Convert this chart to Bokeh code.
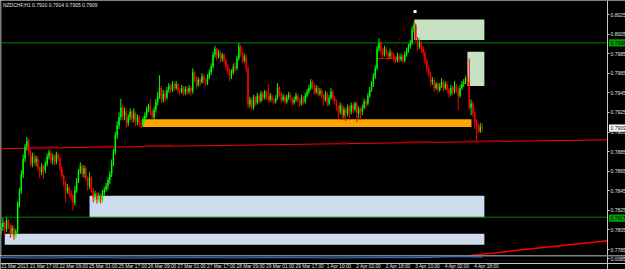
from bokeh.plotting import figure
from bokeh.models import (ColumnDataSource, Range1d, FixedTicker, Label, Span,
                          NumeralTickFormatter, LinearAxis)
from bokeh.core.properties import value
from bokeh.layouts import column
from bokeh.embed import file_html
from bokeh.resources import INLINE

# ---------------- data: NZDCHF H1 candles (bar index 0 = 21 Mar 2013) ----------------
opens = [
    0.7805, 0.7808, 0.7812, 0.7806, 0.7815, 0.7810, 0.7802, 0.7807, 0.7800, 0.7804,
    0.7832, 0.7845, 0.7862, 0.7878, 0.7890, 0.7896, 0.7884, 0.7872, 0.7880, 0.7874,
    0.7878, 0.7868, 0.7864, 0.7870, 0.7866, 0.7872, 0.7880, 0.7884, 0.7876, 0.7880,
    0.7874, 0.7882, 0.7878, 0.7868, 0.7860, 0.7852, 0.7845, 0.7848, 0.7842, 0.7840,
    0.7833, 0.7846, 0.7856, 0.7865, 0.7870, 0.7862, 0.7868, 0.7858, 0.7850, 0.7858,
    0.7846, 0.7838, 0.7842, 0.7836, 0.7840, 0.7835, 0.7843, 0.7846, 0.7850, 0.7856,
    0.7862, 0.7874, 0.7885, 0.7902, 0.7912, 0.7920, 0.7930, 0.7921, 0.7926, 0.7914,
    0.7920, 0.7926, 0.7918, 0.7924, 0.7916, 0.7920, 0.7914, 0.7912, 0.7918, 0.7922,
    0.7928, 0.7932, 0.7926, 0.7920, 0.7928, 0.7936, 0.7942, 0.7950, 0.7938, 0.7944,
    0.7940, 0.7948, 0.7952, 0.7948, 0.7954, 0.7950, 0.7954, 0.7948, 0.7946, 0.7950,
    0.7945, 0.7949, 0.7946, 0.7950, 0.7947, 0.7966, 0.7960, 0.7953, 0.7958, 0.7956,
    0.7962, 0.7958, 0.7955, 0.7961, 0.7966, 0.7972, 0.7984, 0.7990, 0.7983, 0.7986,
    0.7980, 0.7984, 0.7978, 0.7972, 0.7968, 0.7962, 0.7966, 0.7972, 0.7970, 0.7980,
    0.7992, 0.7985, 0.7978, 0.7982, 0.7970, 0.7933, 0.7938, 0.7930, 0.7940, 0.7935,
    0.7942, 0.7937, 0.7944, 0.7940, 0.7946, 0.7941, 0.7938, 0.7942, 0.7938, 0.7936,
    0.7940, 0.7950, 0.7944, 0.7938, 0.7941, 0.7936, 0.7940, 0.7943, 0.7939, 0.7935,
    0.7938, 0.7942, 0.7938, 0.7934, 0.7940, 0.7936, 0.7942, 0.7946, 0.7950, 0.7956,
    0.7952, 0.7946, 0.7950, 0.7944, 0.7947, 0.7942, 0.7938, 0.7944, 0.7934, 0.7940,
    0.7946, 0.7940, 0.7936, 0.7930, 0.7926, 0.7932, 0.7922, 0.7928, 0.7924, 0.7930,
    0.7926, 0.7932, 0.7928, 0.7934, 0.7924, 0.7928, 0.7926, 0.7930, 0.7936, 0.7934,
    0.7942, 0.7948, 0.7954, 0.7962, 0.7970, 0.7990, 0.7996, 0.7988, 0.7984, 0.7990,
    0.7986, 0.7982, 0.7986, 0.7984, 0.7980, 0.7978, 0.7983, 0.7979, 0.7982, 0.7978,
    0.7984, 0.7988, 0.7992, 0.7996, 0.8010, 0.8014, 0.8000, 0.7992, 0.7996, 0.7990,
    0.7986, 0.7978, 0.7970, 0.7964, 0.7956, 0.7958, 0.7950, 0.7954, 0.7948, 0.7952,
    0.7956, 0.7950, 0.7954, 0.7948, 0.7944, 0.7950, 0.7946, 0.7952, 0.7948, 0.7942,
    0.7950, 0.7954, 0.7956, 0.7960, 0.7956, 0.7930, 0.7934, 0.7924, 0.7915, 0.7910,
    0.7906, 0.7910,
]
highs = [
    0.7812, 0.7817, 0.7814, 0.7818, 0.7816, 0.7812, 0.7810, 0.7809, 0.7806, 0.7834,
    0.7848, 0.7866, 0.7882, 0.7893, 0.7900, 0.7898, 0.7887, 0.7884, 0.7883, 0.7881,
    0.7880, 0.7870, 0.7873, 0.7872, 0.7875, 0.7883, 0.7887, 0.7886, 0.7883, 0.7882,
    0.7885, 0.7884, 0.7880, 0.7870, 0.7862, 0.7855, 0.7852, 0.7850, 0.7846, 0.7842,
    0.7850, 0.7858, 0.7867, 0.7874, 0.7872, 0.7871, 0.7870, 0.7860, 0.7864, 0.7860,
    0.7848, 0.7845, 0.7844, 0.7843, 0.7842, 0.7846, 0.7849, 0.7853, 0.7859, 0.7865,
    0.7877, 0.7888, 0.7905, 0.7916, 0.7925, 0.7939, 0.7933, 0.7930, 0.7928, 0.7923,
    0.7929, 0.7928, 0.7929, 0.7926, 0.7923, 0.7922, 0.7917, 0.7921, 0.7925, 0.7931,
    0.7934, 0.7939, 0.7928, 0.7931, 0.7939, 0.7946, 0.7963, 0.7952, 0.7948, 0.7947,
    0.7951, 0.7955, 0.7954, 0.7957, 0.7956, 0.7957, 0.7955, 0.7950, 0.7953, 0.7952,
    0.7952, 0.7951, 0.7953, 0.7952, 0.7970, 0.7968, 0.7962, 0.7961, 0.7960, 0.7965,
    0.7964, 0.7960, 0.7964, 0.7969, 0.7975, 0.7987, 0.7993, 0.7991, 0.7989, 0.7988,
    0.7986, 0.7985, 0.7980, 0.7974, 0.7970, 0.7969, 0.7975, 0.7976, 0.7983, 0.7996,
    0.7994, 0.7987, 0.7985, 0.7984, 0.7972, 0.7941, 0.7940, 0.7943, 0.7942, 0.7945,
    0.7944, 0.7947, 0.7946, 0.7948, 0.7947, 0.7954, 0.7945, 0.7944, 0.7940, 0.7943,
    0.7955, 0.7952, 0.7946, 0.7944, 0.7943, 0.7943, 0.7946, 0.7945, 0.7941, 0.7941,
    0.7945, 0.7944, 0.7940, 0.7943, 0.7942, 0.7945, 0.7949, 0.7953, 0.7959, 0.7958,
    0.7955, 0.7953, 0.7952, 0.7950, 0.7949, 0.7944, 0.7947, 0.7946, 0.7943, 0.7950,
    0.7948, 0.7942, 0.7938, 0.7932, 0.7935, 0.7934, 0.7931, 0.7930, 0.7933, 0.7932,
    0.7935, 0.7934, 0.7936, 0.7936, 0.7931, 0.7930, 0.7933, 0.7939, 0.7938, 0.7945,
    0.7951, 0.7957, 0.7965, 0.7973, 0.7993, 0.8001, 0.7998, 0.7991, 0.7993, 0.7992,
    0.7988, 0.7990, 0.7988, 0.7986, 0.7982, 0.7986, 0.7985, 0.7985, 0.7984, 0.7987,
    0.7991, 0.7995, 0.7999, 0.8013, 0.8017, 0.8016, 0.8002, 0.8001, 0.7998, 0.7993,
    0.7988, 0.7980, 0.7972, 0.7966, 0.7961, 0.7960, 0.7956, 0.7956, 0.7955, 0.7960,
    0.7958, 0.7957, 0.7956, 0.7950, 0.7953, 0.7952, 0.7957, 0.7954, 0.7951, 0.7953,
    0.7957, 0.7959, 0.7962, 0.7962, 0.7980, 0.7938, 0.7936, 0.7926, 0.7918, 0.7913,
    0.7914, 0.7914,
]
lows = [
    0.7800, 0.7804, 0.7799, 0.7803, 0.7806, 0.7797, 0.7798, 0.7795, 0.7797, 0.7801,
    0.7828, 0.7842, 0.7858, 0.7874, 0.7886, 0.7880, 0.7870, 0.7869, 0.7871, 0.7870,
    0.7865, 0.7858, 0.7861, 0.7857, 0.7863, 0.7870, 0.7877, 0.7873, 0.7872, 0.7871,
    0.7872, 0.7875, 0.7865, 0.7857, 0.7849, 0.7833, 0.7842, 0.7838, 0.7836, 0.7825,
    0.7830, 0.7843, 0.7853, 0.7862, 0.7859, 0.7858, 0.7855, 0.7845, 0.7847, 0.7843,
    0.7833, 0.7835, 0.7832, 0.7833, 0.7832, 0.7833, 0.7840, 0.7844, 0.7846, 0.7852,
    0.7859, 0.7870, 0.7882, 0.7898, 0.7908, 0.7917, 0.7917, 0.7917, 0.7909, 0.7911,
    0.7917, 0.7914, 0.7915, 0.7911, 0.7912, 0.7910, 0.7909, 0.7910, 0.7915, 0.7919,
    0.7925, 0.7922, 0.7918, 0.7917, 0.7925, 0.7932, 0.7939, 0.7935, 0.7935, 0.7936,
    0.7938, 0.7945, 0.7945, 0.7946, 0.7947, 0.7948, 0.7945, 0.7943, 0.7944, 0.7942,
    0.7943, 0.7943, 0.7944, 0.7942, 0.7944, 0.7956, 0.7949, 0.7951, 0.7952, 0.7954,
    0.7955, 0.7952, 0.7953, 0.7959, 0.7963, 0.7970, 0.7981, 0.7978, 0.7980, 0.7976,
    0.7977, 0.7975, 0.7968, 0.7964, 0.7957, 0.7959, 0.7964, 0.7966, 0.7968, 0.7978,
    0.7982, 0.7975, 0.7976, 0.7966, 0.7929, 0.7930, 0.7927, 0.7928, 0.7932, 0.7933,
    0.7934, 0.7935, 0.7937, 0.7938, 0.7938, 0.7935, 0.7936, 0.7935, 0.7933, 0.7934,
    0.7938, 0.7941, 0.7935, 0.7936, 0.7933, 0.7934, 0.7938, 0.7936, 0.7932, 0.7933,
    0.7936, 0.7935, 0.7930, 0.7932, 0.7933, 0.7934, 0.7940, 0.7944, 0.7948, 0.7949,
    0.7943, 0.7944, 0.7941, 0.7942, 0.7939, 0.7932, 0.7936, 0.7931, 0.7932, 0.7938,
    0.7937, 0.7933, 0.7927, 0.7918, 0.7923, 0.7917, 0.7919, 0.7916, 0.7921, 0.7919,
    0.7923, 0.7924, 0.7926, 0.7915, 0.7919, 0.7917, 0.7922, 0.7928, 0.7929, 0.7932,
    0.7940, 0.7946, 0.7951, 0.7959, 0.7968, 0.7987, 0.7984, 0.7980, 0.7982, 0.7983,
    0.7979, 0.7980, 0.7980, 0.7976, 0.7975, 0.7976, 0.7976, 0.7977, 0.7975, 0.7976,
    0.7982, 0.7986, 0.7990, 0.7994, 0.8007, 0.7997, 0.7988, 0.7990, 0.7986, 0.7983,
    0.7974, 0.7966, 0.7961, 0.7952, 0.7953, 0.7946, 0.7948, 0.7945, 0.7946, 0.7950,
    0.7947, 0.7948, 0.7945, 0.7940, 0.7942, 0.7943, 0.7944, 0.7945, 0.7927, 0.7940,
    0.7948, 0.7951, 0.7954, 0.7953, 0.7928, 0.7922, 0.7920, 0.7908, 0.7896, 0.7904,
    0.7904, 0.7905,
]
closes = [
    0.7808, 0.7812, 0.7806, 0.7815, 0.7810, 0.7802, 0.7807, 0.7800, 0.7804, 0.7832,
    0.7845, 0.7862, 0.7878, 0.7890, 0.7896, 0.7884, 0.7872, 0.7880, 0.7874, 0.7878,
    0.7868, 0.7864, 0.7870, 0.7866, 0.7872, 0.7880, 0.7884, 0.7876, 0.7880, 0.7874,
    0.7882, 0.7878, 0.7868, 0.7860, 0.7852, 0.7845, 0.7848, 0.7842, 0.7840, 0.7833,
    0.7846, 0.7856, 0.7865, 0.7870, 0.7862, 0.7868, 0.7858, 0.7850, 0.7858, 0.7846,
    0.7838, 0.7842, 0.7836, 0.7840, 0.7835, 0.7843, 0.7846, 0.7850, 0.7856, 0.7862,
    0.7874, 0.7885, 0.7902, 0.7912, 0.7920, 0.7930, 0.7921, 0.7926, 0.7914, 0.7920,
    0.7926, 0.7918, 0.7924, 0.7916, 0.7920, 0.7914, 0.7912, 0.7918, 0.7922, 0.7928,
    0.7932, 0.7926, 0.7920, 0.7928, 0.7936, 0.7942, 0.7950, 0.7938, 0.7944, 0.7940,
    0.7948, 0.7952, 0.7948, 0.7954, 0.7950, 0.7954, 0.7948, 0.7946, 0.7950, 0.7945,
    0.7949, 0.7946, 0.7950, 0.7947, 0.7966, 0.7960, 0.7953, 0.7958, 0.7956, 0.7962,
    0.7958, 0.7955, 0.7961, 0.7966, 0.7972, 0.7984, 0.7990, 0.7983, 0.7986, 0.7980,
    0.7984, 0.7978, 0.7972, 0.7968, 0.7962, 0.7966, 0.7972, 0.7970, 0.7980, 0.7992,
    0.7985, 0.7978, 0.7982, 0.7970, 0.7933, 0.7938, 0.7930, 0.7940, 0.7935, 0.7942,
    0.7937, 0.7944, 0.7940, 0.7946, 0.7941, 0.7938, 0.7942, 0.7938, 0.7936, 0.7940,
    0.7950, 0.7944, 0.7938, 0.7941, 0.7936, 0.7940, 0.7943, 0.7939, 0.7935, 0.7938,
    0.7942, 0.7938, 0.7934, 0.7940, 0.7936, 0.7942, 0.7946, 0.7950, 0.7956, 0.7952,
    0.7946, 0.7950, 0.7944, 0.7947, 0.7942, 0.7938, 0.7944, 0.7934, 0.7940, 0.7946,
    0.7940, 0.7936, 0.7930, 0.7926, 0.7932, 0.7922, 0.7928, 0.7924, 0.7930, 0.7926,
    0.7932, 0.7928, 0.7934, 0.7924, 0.7928, 0.7926, 0.7930, 0.7936, 0.7934, 0.7942,
    0.7948, 0.7954, 0.7962, 0.7970, 0.7990, 0.7996, 0.7988, 0.7984, 0.7990, 0.7986,
    0.7982, 0.7986, 0.7984, 0.7980, 0.7978, 0.7983, 0.7979, 0.7982, 0.7978, 0.7984,
    0.7988, 0.7992, 0.7996, 0.8010, 0.8014, 0.8000, 0.7992, 0.7996, 0.7990, 0.7986,
    0.7978, 0.7970, 0.7964, 0.7956, 0.7958, 0.7950, 0.7954, 0.7948, 0.7952, 0.7956,
    0.7950, 0.7954, 0.7948, 0.7944, 0.7950, 0.7946, 0.7952, 0.7948, 0.7942, 0.7950,
    0.7954, 0.7956, 0.7960, 0.7956, 0.7930, 0.7934, 0.7924, 0.7915, 0.7910, 0.7906,
    0.7910, 0.7909,
]

price_ticks = [0.7785, 0.7805, 0.7825, 0.7845, 0.7865, 0.7885, 0.7905,
               0.7925, 0.7945, 0.7965, 0.7985, 0.8005, 0.8025]
time_tick_bars = [0, 16, 32, 48, 64, 80, 96, 112, 128, 144, 160, 176, 192, 208, 224, 240, 256]
time_labels = ["21 Mar 2013", "21 Mar 17:00", "22 Mar 09:00", "25 Mar 01:00", "25 Mar 17:00",
               "26 Mar 09:00", "27 Mar 01:00", "27 Mar 17:00", "28 Mar 09:00", "29 Mar 01:00",
               "29 Mar 17:00", "1 Apr 10:00", "2 Apr 02:00", "2 Apr 18:00", "3 Apr 10:00",
               "4 Apr 02:00", "4 Apr 18:00"]

# chart objects (bar index / price anchors)
zone_left = [48.0, 2.0, 224.2, 253.0]
zone_right = [262.2, 262.2, 262.2, 262.2]
zone_bottom = [0.7818, 0.7790, 0.7999, 0.7952]
zone_top = [0.7840, 0.7801, 0.8020, 0.7987]
zone_fill = ["#CCDCEC", "#CCDCEC", "#C6E2C2", "#C6E2C2"]

orange_left, orange_right = [76.7], [255.2]
orange_bottom, orange_top = [0.7910], [0.7918]

scale_bar = 329.0          # bar index where the price scale starts
green_levels = [0.7996, 0.7818]
trend_x = [-0.3, 329.0]
trend_y = [0.7888, 0.7897]
dark_seg_x0 = [16.0, 47.0, 78.4, 184.0, 219.4, 250.8]
dark_seg_x1 = [30.6, 61.0, 93.6, 188.0, 234.6, 271.0]
trend2_x = [254.6, 329.0]
trend2_y = [0.7779, 0.7794]
dotted_x = [211.2, 224.2]
dotted_y = [0.7983, 0.8027]
hline_x = [204.2, 216.6]
hline_y = [0.7980, 0.7980]
arrow_x = [224.6]
arrow_y = [0.8028]

price_marks = [0.7996, 0.7909, 0.7817]
price_mark_text = ["0.7996", "0.7909", "0.7817"]
price_mark_bg = ["#00A000", "#FFFFFF", "#00A000"]

# indicator sub-window (scale label 0.0085)
ind_bars = [0, 10, 20, 30, 40, 50, 60, 70, 80, 90, 100, 110, 120, 130, 140, 150, 160,
            170, 180, 190, 200, 210, 220, 230, 240, 250, 261]
ind_vals = [0.00858, 0.00856, 0.00855, 0.00856, 0.00858, 0.00858, 0.00857, 0.00855, 0.00856,
            0.00857, 0.00858, 0.00858, 0.00857, 0.00856, 0.00858, 0.00858, 0.00858, 0.00857,
            0.00856, 0.00857, 0.00858, 0.00859, 0.00858, 0.00860, 0.00866, 0.00868, 0.00864]
ind_ticks = [0.0085]

title_text = "NZDCHF,H1  0.7910 0.7914 0.7905 0.7909"

# ---------------- figure ----------------
BG = "#000000"
AX = "#C8C8C8"
FONT = "Liberation Sans"
FS = "5px"
FS_T = "4.8px"
PX_PER_BAR = 1.8433
X_END = scale_bar + 18 / PX_PER_BAR     # room for the price scale inside the frame

bars = list(range(len(closes)))
cols = ["#00FF00" if c >= o else "#FF0000" for o, c in zip(opens, closes)]
src = ColumnDataSource(dict(
    x=bars, h=highs, l=lows,
    top=[max(o, c) for o, c in zip(opens, closes)],
    bot=[min(o, c) for o, c in zip(opens, closes)],
    col=cols,
))

x_range = Range1d(-0.3, X_END)
y_range = Range1d(0.77789, 0.80393)

p = figure(width=625, height=255, x_range=x_range, y_range=y_range,
           output_backend="svg", toolbar_location=None,
           x_axis_location=None, y_axis_location=None,
           background_fill_color=BG, border_fill_color=BG, min_border=0)
p.grid.visible = False
p.outline_line_color = None

p.quad(left=zone_left, right=zone_right, bottom=zone_bottom, top=zone_top,
       fill_color=zone_fill, line_color=None)
p.quad(left=orange_left, right=orange_right, bottom=orange_bottom, top=orange_top,
       fill_color="#FFA500", line_color=None)

for lv in green_levels:
    p.line([-0.3, scale_bar], [lv, lv], line_color="#008000", line_width=1)

def on_trend(b):
    return trend_y[0] + (b - trend_x[0]) * (trend_y[1] - trend_y[0]) / (trend_x[1] - trend_x[0])

p.line(trend_x, trend_y, line_color="#FF0000", line_width=1)
p.segment(x0=dark_seg_x0, y0=[on_trend(b) + 0.00005 for b in dark_seg_x0],
          x1=dark_seg_x1, y1=[on_trend(b) + 0.00005 for b in dark_seg_x1],
          line_color="#8B0000", line_width=2)
p.line(trend2_x, trend2_y, line_color="#FF0000", line_width=1.5)
p.line(dotted_x, dotted_y, line_color="#C00000", line_width=1, line_dash="1 2")
p.line(hline_x, hline_y, line_color="#FF0000", line_width=1)
p.scatter(arrow_x, arrow_y, marker="square", size=3, fill_color="#FFFFD0", line_color=None)

p.segment(x0="x", y0="l", x1="x", y1="h", source=src, line_color="col", line_width=1)
p.vbar(x="x", width=0.75, top="top", bottom="bot", source=src, fill_color="col", line_color=None)

# left border line
p.add_layout(Span(location=-0.05, dimension="height", line_color="#7F7F7F", line_width=1))

def price_axis(ticks):
    ax = LinearAxis(fixed_location=scale_bar, ticker=FixedTicker(ticks=ticks),
                    formatter=NumeralTickFormatter(format="0.0000"))
    ax.axis_line_color = AX
    ax.major_tick_line_color = AX
    ax.major_tick_out = 2
    ax.major_tick_in = 0
    ax.minor_tick_line_color = None
    ax.major_label_standoff = 1
    ax.major_label_text_color = "#E0E0E0"
    ax.major_label_text_font = FONT
    ax.major_label_text_font_size = FS
    return ax

p.add_layout(price_axis(price_ticks), "right")

# highlighted price labels on the scale
half_h = 0.00037
mark_src = ColumnDataSource(dict(
    left=[scale_bar + 1.5 / PX_PER_BAR] * len(price_marks),
    right=[X_END] * len(price_marks),
    top=[m + half_h for m in price_marks],
    bottom=[m - half_h for m in price_marks],
    y=price_marks, text=price_mark_text, bg=price_mark_bg,
    x=[scale_bar + 3 / PX_PER_BAR] * len(price_marks),
))
p.quad(left="left", right="right", top="top", bottom="bottom", source=mark_src,
       fill_color="bg", line_color=None)
p.text(x="x", y="y", text="text", source=mark_src, text_font=value(FONT),
       text_font_size=FS, text_color="#000000", text_baseline="middle", text_align="left")

p.add_layout(Label(x=1.0, y=0.80345, text=title_text, text_font=FONT,
                   text_font_size=FS, text_color="#E0E0E0", text_baseline="middle"))

# indicator sub-window + time scale: one 14 px frame, the top ~8 px is the indicator,
# the time axis is pinned just below it and its labels fill the rest
IND_TOP, IND_BOTTOM, FRAME_BOTTOM = 0.0088, 0.00805, 0.0074
p2 = figure(width=625, height=14, x_range=x_range, y_range=Range1d(FRAME_BOTTOM, IND_TOP),
            output_backend="svg", toolbar_location=None,
            x_axis_location=None, y_axis_location=None,
            background_fill_color=BG, border_fill_color=BG, min_border=0)
p2.grid.visible = False
p2.outline_line_color = None
p2.add_layout(Span(location=IND_TOP - 0.00005, dimension="width",
                   line_color="#7F7F7F", line_width=1))
p2.line(ind_bars, ind_vals, line_color="#2E7FF0", line_width=1)

# time labels sit to the right of their bar (MetaTrader style): shifted label range
shift = 7.4
p2.extra_x_ranges = {"lab": Range1d(-0.3 - shift, X_END - shift)}
xax = LinearAxis(x_range_name="lab", fixed_location=IND_BOTTOM,
                 ticker=FixedTicker(ticks=time_tick_bars))
xax.major_label_overrides = {b: s for b, s in zip(time_tick_bars, time_labels)}
xax.axis_line_color = AX
xax.major_tick_out = 0
xax.major_tick_in = 0
xax.minor_tick_line_color = None
xax.major_label_standoff = 1
xax.major_label_text_color = "#E0E0E0"
xax.major_label_text_font = FONT
xax.major_label_text_font_size = FS_T
p2.add_layout(xax, "below")

p2.add_layout(price_axis(ind_ticks), "right")

layout = column(p, p2, spacing=0)
open("out.html", "w").write(file_html(layout, INLINE))
